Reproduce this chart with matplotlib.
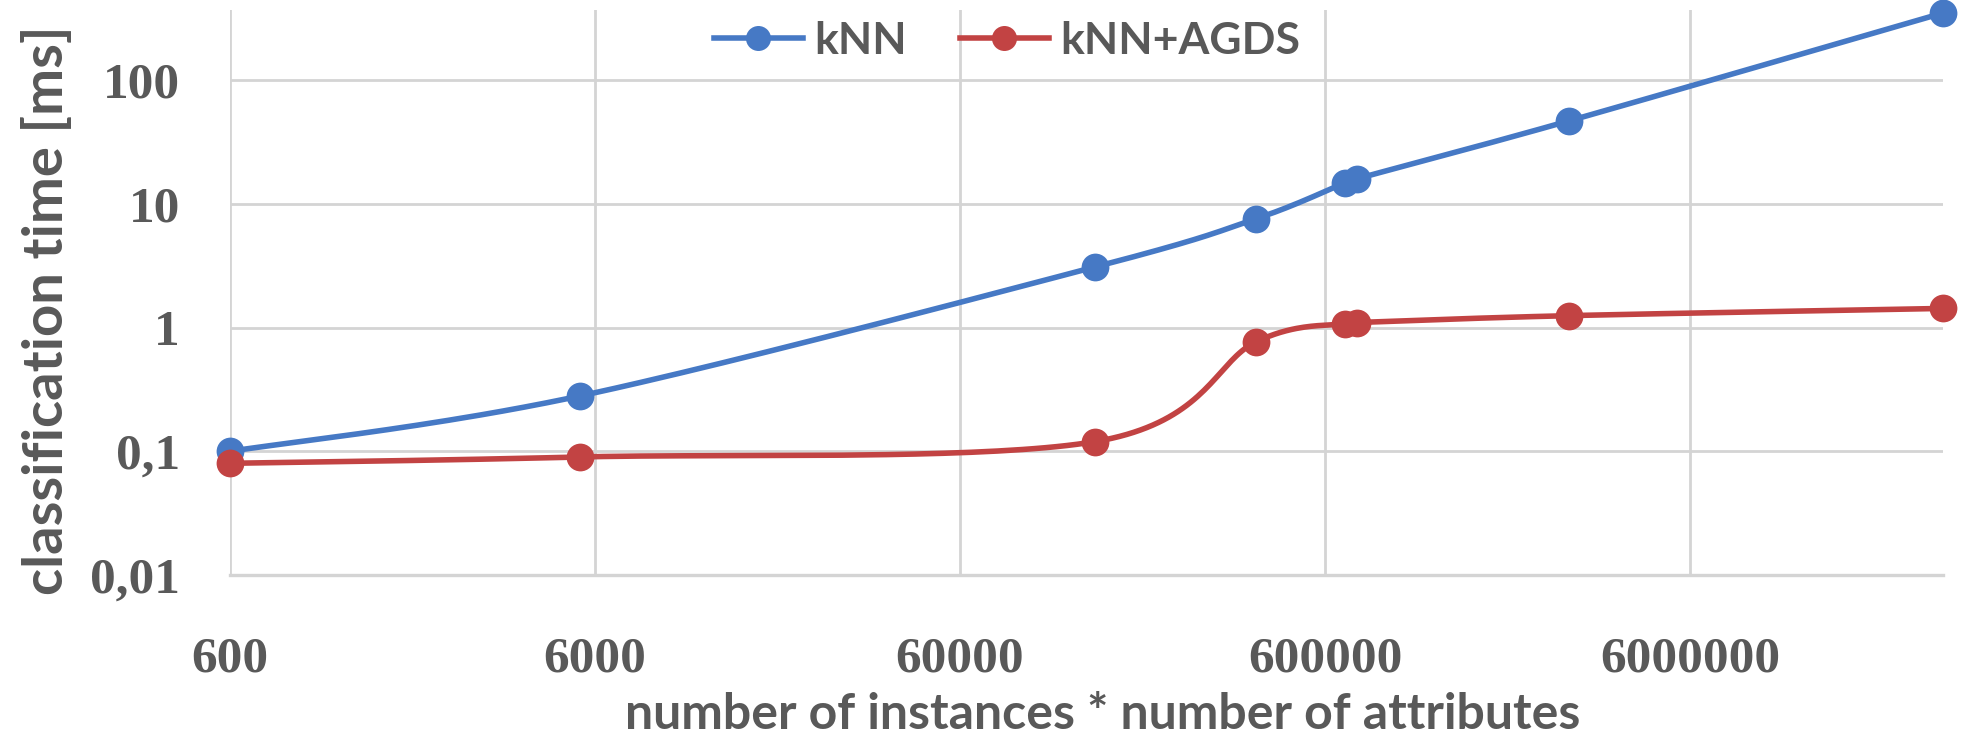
#!/usr/bin/env python3
# -*- coding: utf-8 -*-
import matplotlib
matplotlib.use("Agg")
import matplotlib.pyplot as plt
import numpy as np

# 数据: 样本数*属性数 与 分类耗时(ms)
sizes = [600, 5450, 141000, 389000, 680000, 735000, 2800000, 29600000]
knn_time = [0.1, 0.28, 3.1, 7.6, 14.8, 16.0, 47.0, 350.0]
agds_time = [0.08, 0.09, 0.12, 0.77, 1.08, 1.10, 1.25, 1.43]

series_names = ["kNN", "kNN+AGDS"]
x_ticks = [600, 6000, 60000, 600000, 6000000]
x_tick_labels = ["600", "6000", "60000", "600000", "6000000"]
y_ticks = [0.01, 0.1, 1, 10, 100]
y_tick_labels = ["0,01", "0,1", "1", "10", "100"]

BLUE = "#4679c5"
RED = "#c24343"
GREY = "#595959"
GRID = "#d4d4d4"


def __smooth(xs, ys, n=40):
  """在对数坐标下用 Catmull-Rom 贝塞尔曲线平滑折线."""
  px = np.log10(np.asarray(xs, dtype=float))
  py = np.log10(np.asarray(ys, dtype=float))
  pts = np.stack([px, py], axis=1)
  out = []
  t = np.linspace(0, 1, n)[:, None]
  for i in range(len(pts) - 1):
    p0 = pts[max(i - 1, 0)]
    p1 = pts[i]
    p2 = pts[i + 1]
    p3 = pts[min(i + 2, len(pts) - 1)]
    c1 = p1 + (p2 - p0) / 6
    c2 = p2 - (p3 - p1) / 6
    seg = ((1 - t) ** 3 * p1 + 3 * (1 - t) ** 2 * t * c1
           + 3 * (1 - t) * t ** 2 * c2 + t ** 3 * p2)
    out.append(seg if i == 0 else seg[1:])
  curve = np.concatenate(out)
  return 10 ** curve[:, 0], 10 ** curve[:, 1]


def __cmd():
  fig = plt.figure(figsize=(19.72, 7.36), dpi=100)
  ax = fig.add_axes([230 / 1972, 161 / 736, 1713 / 1972, 565 / 736])
  ax.set_xscale("log")
  ax.set_yscale("log")

  for times, color, name in zip([knn_time, agds_time], [BLUE, RED], series_names):
    sx, sy = __smooth(sizes, times)
    ax.plot(sx, sy, color=color, lw=4.0, solid_capstyle="round", zorder=3,
            clip_on=False)
    ax.plot(sizes, times, "o", color=color, ms=20, mew=0, zorder=4,
            clip_on=False)
    # 图例用的句柄
    ax.plot([], [], "-o", color=color, lw=4.0, ms=18, mew=0, label=name)

  ax.set_xlim(sizes[0], sizes[-1])
  ax.set_ylim(0.01, 370)

  ax.set_xticks(x_ticks, labels=x_tick_labels)
  ax.set_yticks(y_ticks, labels=y_tick_labels)
  ax.minorticks_off()
  ax.tick_params(length=0, colors=GREY)
  ax.tick_params(axis="x", pad=44)
  ax.tick_params(axis="y", pad=36)
  for lab in ax.get_xticklabels() + ax.get_yticklabels():
    lab.set_fontfamily("Liberation Serif")
    lab.set_fontweight("bold")
    lab.set_fontsize(37)
    lab.set_color(GREY)

  ax.grid(True, which="major", color=GRID, lw=2.0)
  ax.set_axisbelow(True)
  for side in ["top", "right", "left"]:
    ax.spines[side].set_visible(False)
  ax.spines["bottom"].set_color(GRID)
  ax.spines["bottom"].set_linewidth(2.4)

  ax.set_xlabel("number of instances * number of attributes", family="Lato",
                fontweight="bold", fontsize=36, color=GREY, va="baseline")
  ax.xaxis.set_label_coords(0.5096, -0.2726)
  ax.set_ylabel("classification time [ms]", family="Lato",
                fontweight="bold", fontsize=40.5, color=GREY, va="baseline")
  ax.yaxis.set_label_coords(-0.0975, 0.468)

  leg = ax.legend(loc="center", bbox_to_anchor=(1007 / 1972, 1 - 41 / 736),
                  bbox_transform=fig.transFigure, ncol=2, frameon=False,
                  handlelength=2.0, handletextpad=0.25, columnspacing=1.2,
                  borderpad=0, prop={"family": "Lato", "weight": "bold",
                                     "size": 32})
  for text in leg.get_texts():
    text.set_color(GREY)

  fig.savefig("out.png", dpi=100, facecolor="white")


if __name__ == '__main__':
  __cmd()
